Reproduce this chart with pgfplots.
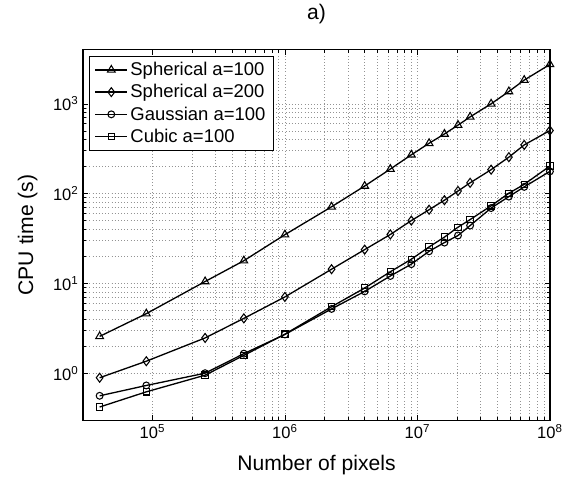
\documentclass[border=0pt]{standalone}
\usepackage{fontspec}
\setmainfont{Liberation Sans}
\usepackage{pgfplots}
\usepackage{pgfplotstable}
\pgfplotsset{compat=1.18}

\pgfplotstableread{
x sph100 sph200 gau100 cub100
40000     2.57  0.89  0.56  0.42
90000     4.6   1.36  0.73  0.62
250000    10.5  2.47  1.0   0.95
490000    17.9  4.08  1.65  1.58
1000000   34.9  7.07  2.7   2.72
2250000   71.4  14.4  5.2   5.5
4000000   121.6 23.8  8.15  8.88
6250000   188   35.1  12.1  13.5
9000000   271   50.1  16.4  18.6
12250000  364   66.2  22.8  25.5
16000000  462   84.6  28.5  32.8
20250000  580   107   34.2  42.3
25000000  716   132   44.1  51.4
36000000  1002  185   69.1  73.2
49000000  1374  255   92.7  101
64000000  1841  349   119   127
100000000 2750  505   177   203
}\datatable

\begin{document}
\begin{tikzpicture}
\begin{loglogaxis}[
  scale only axis,
  width=354pt, height=280.8pt,
  at={(0,0)}, anchor=south west,
  xmin=3e4, xmax=1e8, ymin=0.3, ymax=4000,
  xtick={1e5,1e6,1e7,1e8},
  xticklabels={10\textsuperscript{5},10\textsuperscript{6},10\textsuperscript{7},10\textsuperscript{8}},
  ytick={1,10,100,1000},
  yticklabels={10\textsuperscript{0},10\textsuperscript{1},10\textsuperscript{2},10\textsuperscript{3}},
  ticklabel style={font=\fontsize{12.5}{14}\selectfont},
  grid=both,
  major grid style={dotted, gray!85, line width=0.5pt},
  minor grid style={dotted, gray!85, line width=0.5pt},
  major tick length=4pt, minor tick length=2.5pt,
  tick style={black, line width=0.5pt},
  axis line style={black, line width=0.9pt},
  xlabel={Number of pixels},
  ylabel={CPU time (s)},
  title={a)},
  label style={font=\fontsize{16}{18}\selectfont},
  title style={font=\fontsize{16}{18}\selectfont, at={(axis description cs:0.5,1.0748)}, anchor=center},
  xlabel style={at={(axis description cs:0.5,-0.121)}, anchor=center},
  ylabel style={at={(axis description cs:-0.1186,0.5)}, anchor=center},
  legend style={at={(0,1)}, anchor=north west, xshift=4.5pt, yshift=-4.5pt,
    font=\fontsize{14}{17}\selectfont, draw=black, line width=0.8pt,
    inner xsep=4pt, inner ysep=2.5pt, row sep=1.2pt},
  legend cell align=left,
  legend image code/.code={
    \draw[mark repeat=2,mark phase=2] plot coordinates {(0pt,0pt) (12pt,0pt) (24pt,0pt)};
  },
]
\addplot[black, line width=1pt, mark=triangle, mark size=3.4pt, mark options={solid, line width=0.8pt}] table[x=x, y=sph100] {\datatable};
\addlegendentry{Spherical a=100}
\addplot[black, line width=1pt, mark=diamond, mark size=3.4pt, mark options={solid, line width=0.8pt}] table[x=x, y=sph200] {\datatable};
\addlegendentry{Spherical a=200}
\addplot[black, line width=1pt, mark=o, mark size=2.6pt, mark options={solid, line width=0.8pt}] table[x=x, y=gau100] {\datatable};
\addlegendentry{Gaussian a=100}
\addplot[black, line width=1pt, mark=square, mark size=2.4pt, mark options={solid, line width=0.8pt}] table[x=x, y=cub100] {\datatable};
\addlegendentry{Cubic a=100}
\end{loglogaxis}
\useasboundingbox (-63pt,-46pt) rectangle (362.25pt,312.5pt);
\end{tikzpicture}
\end{document}
